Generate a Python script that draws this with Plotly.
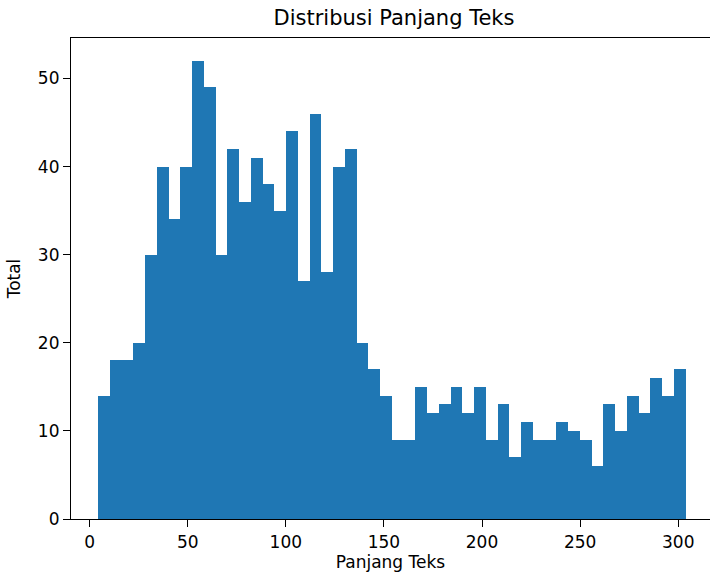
import numpy as np
import plotly.graph_objects as go

# Histogram counts (50 bins)
counts = [14, 18, 18, 20, 30, 40, 34, 40, 52, 49,
          30, 42, 36, 41, 38, 35, 44, 27, 46, 28,
          40, 42, 20, 17, 14, 9, 9, 15, 12, 13,
          15, 12, 15, 9, 13, 7, 11, 9, 9, 11,
          10, 9, 6, 13, 10, 14, 12, 16, 14, 17]
bin_start = 4.3
bin_end = 303.8

title = "Distribusi Panjang Teks"
x_label = "Panjang Teks"
y_label = "Total"
x_ticks = [0, 50, 100, 150, 200, 250, 300]
y_ticks = [0, 10, 20, 30, 40, 50]

edges = np.linspace(bin_start, bin_end, len(counts) + 1)
width = edges[1] - edges[0]

fig = go.Figure(go.Bar(
    x=edges[:-1],
    y=counts,
    width=width,
    offset=0,
    marker=dict(color="#1f77b4", line=dict(width=0)),
    hoverinfo="x+y",
))

font = dict(family="DejaVu Sans", size=17, color="#000")

W, H = 710, 577
fig.update_layout(
    width=W, height=H,
    margin=dict(l=71, r=0, t=38, b=58),
    plot_bgcolor="white", paper_bgcolor="white",
    bargap=0,
    showlegend=False,
    font=font,
    title=dict(text=title, x=0.5055, xref="paper", xanchor="center",
               y=1 - 18 / H, yref="container", yanchor="middle",
               font=dict(family="DejaVu Sans", size=21, color="#000")),
)
fig.update_xaxes(
    range=[-9.5, 316.2],
    tickvals=x_ticks, ticktext=[str(t) for t in x_ticks],
    ticks="outside", ticklen=7, tickwidth=1.2, tickcolor="#000",
    showline=True, linecolor="#000", linewidth=1.2, mirror=True,
    showgrid=False, zeroline=False,
    tickfont=font,
    title=dict(text=x_label, font=font, standoff=5),
)
fig.update_yaxes(
    range=[0, 54.6],
    tickvals=y_ticks, ticktext=[str(t) for t in y_ticks],
    ticks="outside", ticklen=7, tickwidth=1.2, tickcolor="#000",
    showline=True, linecolor="#000", linewidth=1.2, mirror=False,
    showgrid=False, zeroline=False,
    tickfont=font,
    title=dict(text=y_label, font=font, standoff=12),
)

fig.write_html(
    "out.html",
    config={"displayModeBar": False},
    post_script="document.body.style.margin='0';document.body.style.overflow='hidden';",
)
